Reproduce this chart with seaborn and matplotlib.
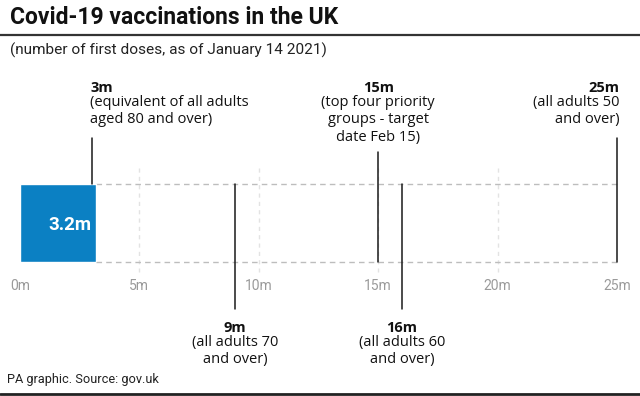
import matplotlib
matplotlib.use("Agg")
import matplotlib.pyplot as plt
import matplotlib.transforms as mtransforms
import seaborn as sns

# data
category = ["UK"]
first_doses = [3.2]  # millions, as of January 14 2021
targets = [3, 9, 15, 16, 25]
target_heads = ["3m", "9m", "15m", "16m", "25m"]
target_notes = [
    "(equivalent of all adults\naged 80 and over)",
    "(all adults 70\nand over)",
    "(top four priority\ngroups - target\ndate Feb 15)",
    "(all adults 60\nand over)",
    "(all adults 50\nand over)",
]
ticks = [0, 5, 10, 15, 20, 25]
tick_labels = ["0m", "5m", "10m", "15m", "20m", "25m"]

sns.set_theme(style="white")
plt.rcParams['font.family'] = ['Roboto', 'DejaVu Sans']
note_font = ['Open Sans', 'DejaVu Sans']

W, H = 640, 396
fig = plt.figure(figsize=(6.4, 3.96), dpi=100)
fig.patch.set_facecolor("white")

# pixel helpers
x0, x25 = 20, 617
ppm = (x25 - x0) / 25.0
bar_top, bar_bot = 184, 262


def fy(p):
    return 1 - p / H


# axes covers the bar band; x in millions
ax = fig.add_axes([0, fy(bar_bot), 1, (bar_bot - bar_top) / H])
ax.set_xlim(-x0 / ppm, (W - x0) / ppm)

sns.barplot(x=first_doses, y=category, orient="h", color="#0b80c3",
            width=1.0, saturation=1, ax=ax, zorder=3)
ax.set_ylim(0.5, -0.5)
ax.set_ylabel("")
ax.set_yticks([])
for s in ax.spines.values():
    s.set_visible(False)

ax.set_xticks(ticks)
ax.set_xticklabels(tick_labels, color="#9a9a9a", fontsize=10)
ax.tick_params(axis="x", length=0, pad=12)

# value label inside the bar
ax.text(first_doses[0] - 0.2, 0.02, f"{first_doses[0]}m", color="white",
        fontsize=13.5, fontweight="bold", ha="right", va="center", zorder=4)

tr = mtransforms.blended_transform_factory(ax.transData, fig.transFigure)

# dashed band lines
for p in (bar_top, bar_bot):
    ax.plot([first_doses[0], 25], [fy(p), fy(p)], transform=tr, color="#bdbdbd",
            lw=1, ls=(0, (4, 3)), clip_on=False, zorder=1)

# faint vertical grid
for t in ticks[1:-1]:
    ax.plot([t, t], [fy(168), fy(272)], transform=tr, color="#e3e3e3",
            lw=1, ls=(0, (3, 3)), clip_on=False, zorder=0)

# target markers: (line top, line bottom, text anchor, above?)
layout = {
    3: (138, bar_top, "left", True),
    9: (bar_top, 309, "center", False),
    15: (152, bar_bot, "center", True),
    16: (bar_top, 309, "center", False),
    25: (138, bar_bot, "right", True),
}
for val, head, note in zip(targets, target_heads, target_notes):
    top, bot, ha, above = layout[val]
    ax.plot([val, val], [fy(top), fy(bot)], transform=tr, color="#1a1a1a",
            lw=1.1, clip_on=False, zorder=5)
    tx = val
    if ha == "right":
        tx = val + 0.12
    if ha == "left":
        tx = val - 0.05
    hy, ny = (88, 95) if above else (328, 335)
    ax.text(tx, fy(hy), head, transform=tr, ha=ha, va="center",
            fontsize=10.5, fontweight="bold", color="#111111", family=note_font)
    ax.text(tx, fy(ny), note, transform=tr, ha=ha, va="top",
            fontsize=10.5, color="#111111", multialignment=ha,
            linespacing=1.22, family=note_font)

# titles and footer
fig.text(10 / W, fy(18), "Covid-19 vaccinations in the UK", fontsize=16.5,
         fontweight="bold", va="center", ha="left", color="#111111")
fig.add_artist(plt.Line2D([0, 1], [fy(35), fy(35)], color="#333333", lw=1.6))
fig.text(10 / W, fy(50), "(number of first doses, as of January 14 2021)",
         fontsize=11.1, va="center", ha="left", color="#222222")
fig.text(7 / W, fy(380), "PA graphic. Source: gov.uk", fontsize=9.2,
         va="center", ha="left", color="#222222")
fig.add_artist(plt.Line2D([0, 1], [fy(394), fy(394)], color="#222222", lw=2))

fig.savefig("out.png", dpi=100, facecolor="white")
